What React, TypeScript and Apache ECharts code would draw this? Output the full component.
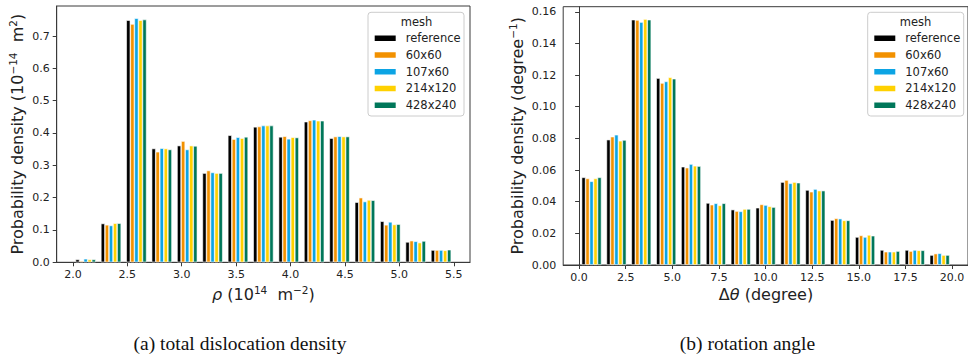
import React, { useEffect, useRef } from "react";
import * as echarts from "echarts";

// ---------- data ----------
const meshNames = ["reference", "60x60", "107x60", "214x120", "428x240"];
const meshColors = ["#000000", "#F29100", "#0CA4E4", "#FFD100", "#00775A"];

// (a) total dislocation density histogram: 15 bins from 2.0 to 5.5
const rhoBinStart = 2.0;
const rhoBinWidth = 3.5 / 15;
const rhoReference = [0.009, 0.120, 0.749, 0.352, 0.361, 0.276, 0.393, 0.419, 0.388, 0.435, 0.384, 0.186, 0.127, 0.063, 0.038];
const rho60x60 = [0.004, 0.116, 0.737, 0.342, 0.375, 0.284, 0.381, 0.420, 0.390, 0.439, 0.389, 0.200, 0.116, 0.067, 0.038];
const rho107x60 = [0.011, 0.114, 0.755, 0.353, 0.349, 0.278, 0.387, 0.423, 0.382, 0.441, 0.390, 0.188, 0.125, 0.065, 0.038];
const rho214x120 = [0.009, 0.121, 0.749, 0.352, 0.361, 0.276, 0.384, 0.423, 0.387, 0.438, 0.389, 0.193, 0.117, 0.061, 0.037];
const rho428x240 = [0.009, 0.121, 0.751, 0.349, 0.360, 0.276, 0.388, 0.423, 0.386, 0.438, 0.389, 0.192, 0.118, 0.066, 0.039];
const rhoXTicks = [2.0, 2.5, 3.0, 3.5, 4.0, 4.5, 5.0, 5.5];
const rhoYTicks = [0.0, 0.1, 0.2, 0.3, 0.4, 0.5, 0.6, 0.7];

// (b) rotation angle histogram: 15 bins from 0 to 20
const angBinStart = 0;
const angBinWidth = 20 / 15;
const angReference = [0.0554, 0.0792, 0.1550, 0.1181, 0.0621, 0.0392, 0.0350, 0.0362, 0.0524, 0.0474, 0.0284, 0.0177, 0.0095, 0.0095, 0.0063];
const ang60x60 = [0.0547, 0.0811, 0.1548, 0.1150, 0.0615, 0.0381, 0.0341, 0.0383, 0.0537, 0.0463, 0.0295, 0.0187, 0.0084, 0.0088, 0.0072];
const ang107x60 = [0.0529, 0.0823, 0.1535, 0.1160, 0.0638, 0.0390, 0.0339, 0.0379, 0.0516, 0.0480, 0.0293, 0.0177, 0.0084, 0.0095, 0.0074];
const ang214x120 = [0.0547, 0.0785, 0.1554, 0.1186, 0.0627, 0.0377, 0.0354, 0.0371, 0.0524, 0.0470, 0.0282, 0.0190, 0.0084, 0.0093, 0.0063];
const ang428x240 = [0.0554, 0.0790, 0.1550, 0.1177, 0.0625, 0.0390, 0.0354, 0.0366, 0.0520, 0.0470, 0.0282, 0.0185, 0.0088, 0.0093, 0.0063];
const angXTicks = [0, 2.5, 5.0, 7.5, 10.0, 12.5, 15.0, 17.5, 20.0];
const angYTicks = [0.0, 0.02, 0.04, 0.06, 0.08, 0.1, 0.12, 0.14, 0.16];

const rhoSeries = [rhoReference, rho60x60, rho107x60, rho214x120, rho428x240];
const angSeries = [angReference, ang60x60, ang107x60, ang214x120, ang428x240];

// ---------- styling ----------
const FONT = "DejaVu Sans";
const AXIS_COLOR = "#3a3a3a";
const TEXT_COLOR = "#222";

function histData(values: number[], start: number, width: number) {
  return values.map((v, i) => [start + (i + 0.5) * width, v]);
}

function makeAxisX(gridIndex: number, min: number, max: number, ticks: number[], digits: number) {
  return {
    type: "value",
    gridIndex,
    min,
    max,
    splitLine: { show: false },
    axisLine: { show: true, lineStyle: { color: AXIS_COLOR, width: 1 } },
    axisTick: { show: true, length: 4, lineStyle: { color: AXIS_COLOR }, customValues: ticks },
    axisLabel: {
      show: true,
      customValues: ticks,
      margin: 7,
      color: TEXT_COLOR,
      fontFamily: FONT,
      fontSize: 11,
      formatter: (v: number) => v.toFixed(digits),
    },
  };
}

function makeAxisY(gridIndex: number, max: number, ticks: number[], digits: number) {
  return {
    type: "value",
    gridIndex,
    min: 0,
    max,
    splitLine: { show: false },
    axisLine: { show: true, lineStyle: { color: AXIS_COLOR, width: 1 } },
    axisTick: { show: true, length: 4, lineStyle: { color: AXIS_COLOR }, customValues: ticks },
    axisLabel: {
      show: true,
      customValues: ticks,
      margin: 7,
      color: TEXT_COLOR,
      fontFamily: FONT,
      fontSize: 11,
      formatter: (v: number) => v.toFixed(digits),
    },
  };
}

function makeLegend(left: number, top: number) {
  return {
    data: meshNames,
    orient: "vertical",
    left,
    top,
    padding: 0,
    itemWidth: 23,
    itemHeight: 7.5,
    itemGap: 0,
    icon: "rect",
    selectedMode: false,
    textStyle: {
      fontFamily: FONT,
      fontSize: 11.5,
      color: TEXT_COLOR,
      lineHeight: 16.7,
      padding: [0, 0, 0, 4],
    },
  };
}

const supRich = {
  sup: { fontFamily: FONT, fontSize: 10.5, verticalAlign: "top", lineHeight: 20, padding: [0, 0, 6, 0] },
  it: { fontFamily: FONT, fontSize: 16, fontStyle: "italic", lineHeight: 20 },
};

function titleText(x: number, y: number, text: string, rotation = 0) {
  return {
    type: "text",
    x,
    y,
    rotation,
    z: 10,
    style: {
      text,
      x: 0,
      y: 0,
      align: "center",
      verticalAlign: "middle",
      textAlign: "center",
      textVerticalAlign: "middle",
      fontFamily: FONT,
      fontSize: 16,
      lineHeight: 20,
      fill: TEXT_COLOR,
      rich: supRich,
    },
  };
}

function legendFrame(x: number, titleX: number) {
  return [
    {
      type: "rect",
      z: 1,
      shape: { x, y: 12.3, width: 96, height: 103.7, r: 3 },
      style: { fill: "rgba(255,255,255,0.8)", stroke: "#cccccc", lineWidth: 1 },
    },
    {
      type: "text",
      z: 10,
      x: titleX,
      y: 21.7,
      style: {
        text: "mesh",
        align: "center",
        verticalAlign: "middle",
        textAlign: "center",
        textVerticalAlign: "middle",
        fontFamily: FONT,
        fontSize: 11.5,
        fill: TEXT_COLOR,
      },
    },
  ];
}

function captionText(x: number, text: string) {
  return {
    type: "text",
    x,
    y: 343,
    z: 10,
    style: {
      text,
      align: "center",
      verticalAlign: "middle",
      textAlign: "center",
      textVerticalAlign: "middle",
      fontFamily: "Liberation Serif",
      fontSize: 19.5,
      fill: "#111",
    },
  };
}

export default function App() {
  const ref = useRef<HTMLDivElement>(null);

  useEffect(() => {
    document.body.style.margin = "0";
    if (!ref.current) return;
    const chart = echarts.init(ref.current, undefined, { renderer: "svg" });

    const barCommon = {
      type: "bar",
      barGap: "0%",
      barCategoryGap: "20%",
    };

    const series: any[] = [];
    meshNames.forEach((name, k) => {
      series.push({
        ...barCommon,
        name,
        xAxisIndex: 0,
        yAxisIndex: 0,
        data: histData(rhoSeries[k], rhoBinStart, rhoBinWidth),
        itemStyle: { color: meshColors[k], borderColor: "#ffffff", borderWidth: 0.6 },
      });
    });
    meshNames.forEach((name, k) => {
      series.push({
        ...barCommon,
        name,
        xAxisIndex: 1,
        yAxisIndex: 1,
        data: histData(angSeries[k], angBinStart, angBinWidth),
        itemStyle: { color: meshColors[k], borderColor: "#ffffff", borderWidth: 0.6 },
      });
    });

    const option: any = {
      animation: false,
      backgroundColor: "#ffffff",
      grid: [
        { left: 56.7, top: 6, width: 413.3, height: 256.3, show: true, borderColor: AXIS_COLOR, borderWidth: 1, containLabel: false },
        { left: 563.2, top: 6.7, width: 405.7, height: 258.3, show: true, borderColor: AXIS_COLOR, borderWidth: 1, containLabel: false },
      ],
      xAxis: [
        makeAxisX(0, 1.8507, 5.6493, rhoXTicks, 1),
        makeAxisX(1, -0.8533, 20.8533, angXTicks, 1),
      ],
      yAxis: [
        makeAxisY(0, 0.7928, rhoYTicks, 1),
        makeAxisY(1, 0.1632, angYTicks, 2),
      ],
      legend: [makeLegend(372.7, 30), makeLegend(872.3, 30)],
      series,
      graphic: {
        elements: [
          ...legendFrame(368, 416.5),
          ...legendFrame(867.7, 915.5),
          titleText(17, 134.2, "Probability density (10{sup|−14}  m{sup|2})", Math.PI / 2),
          titleText(517.5, 135.8, "Probability density (degree{sup|−1})", Math.PI / 2),
          titleText(263.4, 294, "{it|ρ} (10{sup|14}  m{sup|−2})"),
          titleText(766, 294, "Δ{it|θ} (degree)"),
          captionText(240, "(a) total dislocation density"),
          captionText(747.5, "(b) rotation angle"),
        ],
      },
    };

    chart.setOption(option);
    return () => chart.dispose();
  }, []);

  return <div ref={ref} style={{ width: 968, height: 360 }} />;
}
